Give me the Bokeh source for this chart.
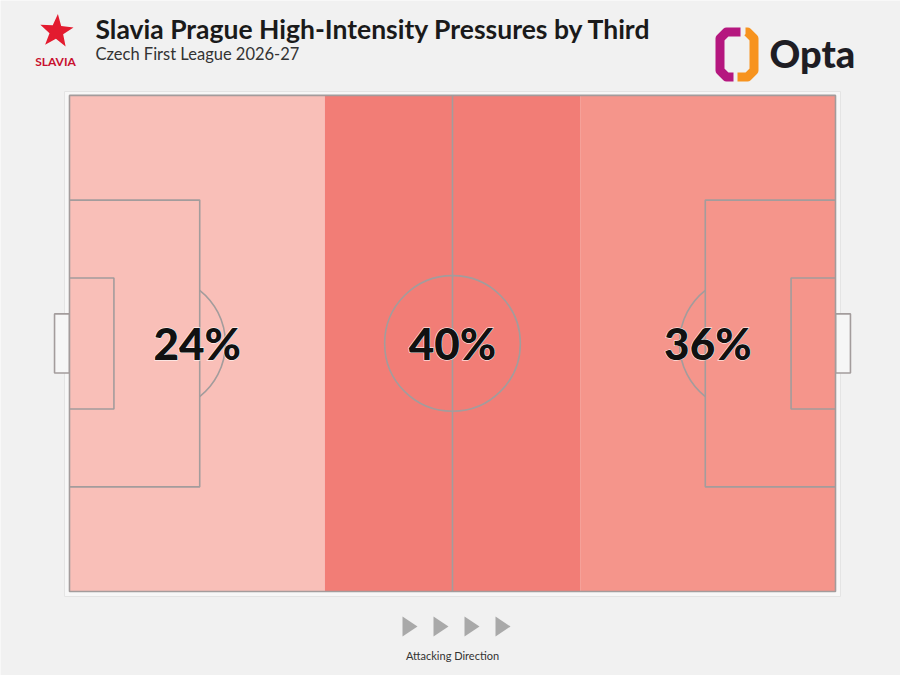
import numpy as np
from bokeh.plotting import figure
from bokeh.models import Range1d
from bokeh.core.properties import value
from bokeh.embed import file_html
from bokeh.resources import INLINE

# ---- data ----
thirds = ["Defensive Third", "Middle Third", "Attacking Third"]
pressure_share = [24, 40, 36]
zone_colors = ["#f9bfb8", "#f27d76", "#f5958b"]
title = "Slavia Prague High-Intensity Pressures by Third"
subtitle = "Czech First League 2026-27"
direction_label = "Attacking Direction"

# pitch dims (metres)
L, W = 105.0, 68.0

# screen mapping (page px) -> data
S = 766.0 / L
PX0, PY0 = 69.0, 591.0


def X(px):
    return (px - PX0) / S


def Y(py):
    return (PY0 - py) / S


def B(py, size):
    # baseline correction for the svg text renderer
    return Y(py - 0.43 * size)


FW, FH = 900, 675
p = figure(width=FW, height=FH, output_backend="svg", toolbar_location=None,
           x_range=Range1d(X(0), X(FW)), y_range=Range1d(Y(FH), Y(0)),
           min_border=0, background_fill_color="#f1f1f1", border_fill_color="#f1f1f1",
           outline_line_color=None)
p.axis.visible = False
p.grid.visible = False

line_c = "#a39c9c"
lw = 1.6
heavy = value("'Lato Black', Lato")

# frame around pitch
p.quad(left=X(64), right=X(840), bottom=Y(596), top=Y(91),
       fill_color="#f7f7f7", line_color="#e4e4e4", line_width=1)

# goals (outside pitch)
gw, gd = 8.1, 2.05
p.quad(left=[-gd, L], right=[0, L + gd], bottom=[W / 2 - gw / 2] * 2, top=[W / 2 + gw / 2] * 2,
       fill_color="#f6f6f6", line_color=line_c, line_width=lw)

# zones
n = len(thirds)
lefts = [i * L / n for i in range(n)]
rights = [(i + 1) * L / n for i in range(n)]
p.quad(left=lefts, right=rights, bottom=0, top=W, fill_color=zone_colors,
       line_color=None)

# pitch markings
p.quad(left=0, right=L, bottom=0, top=W, fill_color=None, line_color=line_c, line_width=lw)
p.line([L / 2, L / 2], [0, W], line_color=line_c, line_width=lw)
cr = 9.3
p.circle(x=L / 2, y=W / 2, radius=cr, fill_color=None, line_color=line_c, line_width=lw)
bd, bw = 0.17 * L, 0.578 * W
sd, sw = 0.058 * L, 0.264 * W
for x0, sgn in [(0, 1), (L, -1)]:
    xs = [x0, x0 + sgn * bd, x0 + sgn * bd, x0]
    p.line(xs, [W / 2 - bw / 2, W / 2 - bw / 2, W / 2 + bw / 2, W / 2 + bw / 2],
           line_color=line_c, line_width=lw)
    xs = [x0, x0 + sgn * sd, x0 + sgn * sd, x0]
    p.line(xs, [W / 2 - sw / 2, W / 2 - sw / 2, W / 2 + sw / 2, W / 2 + sw / 2],
           line_color=line_c, line_width=lw)
spot = 0.115 * L
th = np.arccos((bd - spot) / cr)
p.arc(x=spot, y=W / 2, radius=cr, start_angle=-th, end_angle=th,
      line_color=line_c, line_width=lw)
p.arc(x=L - spot, y=W / 2, radius=cr, start_angle=np.pi - th, end_angle=np.pi + th,
      line_color=line_c, line_width=lw)

# percentage labels: white outline underneath, solid black on top
cx = [(a + b) / 2 for a, b in zip(lefts, rights)]
labels = [f"{v}%" for v in pressure_share]
for outline in ["#ffffff", None]:
    p.text(x=cx, y=[B(361, 44)] * n, text=labels,
           text_font=heavy, text_font_style="bold", text_font_size="44px",
           text_color="#111111", text_outline_color=outline,
           text_align="center", text_baseline="alphabetic")

# title / subtitle
p.text(x=[X(95)], y=[B(40, 26.5)], text=[title], text_font=value("Lato"),
       text_font_style="bold", text_font_size="26.5px", text_color="#1a1a1a",
       text_baseline="alphabetic")
p.text(x=[X(95)], y=[B(61, 16.5)], text=[subtitle], text_font=value("Lato"),
       text_font_size="16.5px", text_color="#333333", text_baseline="alphabetic")

# Slavia logo: star
ang = np.pi / 2 + np.arange(10) * np.pi / 5 - 0.08
rad = np.where(np.arange(10) % 2 == 0, 17.5, 7.2)
sx = 56 + rad * np.cos(ang)
sy = 31 - rad * np.sin(ang)
p.patch(X(sx), Y(sy), fill_color="#e31b2f", line_color=None)
p.text(x=[X(55)], y=[B(66, 12)], text=["SLAVIA"], text_font=value("Lato"),
       text_font_style="bold", text_font_size="12px", text_color="#c8102e",
       text_align="center", text_baseline="alphabetic")

# Opta logo
lb_x = [740, 726, 719.5, 719.5, 726, 733]
lb_y = [31.5, 31.5, 38, 70, 76.5, 76.5]
rb_x = [745, 747, 753.5, 753.5, 747, 737]
rb_y = [31.5, 31.5, 38, 70, 76.5, 76.5]
p.line(X(np.array(lb_x)), Y(np.array(lb_y)), line_color="#b5177f", line_width=9,
       line_join="round")
p.line(X(np.array(rb_x)), Y(np.array(rb_y)), line_color="#f7931e", line_width=9,
       line_join="round")
p.text(x=[X(769)], y=[B(69, 38)], text=["Opta"], text_font=heavy,
       text_font_style="bold", text_font_size="38px", text_color="#1e1d24",
       text_baseline="alphabetic")

# attacking direction arrows
xs_list, ys_list = [], []
for i in range(4):
    c = 409.5 + i * 31
    xs_list.append(X(np.array([c - 7.5, c + 7.5, c - 7.5])))
    ys_list.append(Y(np.array([616, 626, 636])))
p.patches(xs_list, ys_list, fill_color="#a9a9a9", line_color=None)
p.text(x=[X(452)], y=[B(660, 11)], text=[direction_label], text_font=value("Lato"),
       text_font_size="11px", text_color="#333333", text_align="center",
       text_baseline="alphabetic")

open("out.html", "w").write(file_html(p, INLINE))
